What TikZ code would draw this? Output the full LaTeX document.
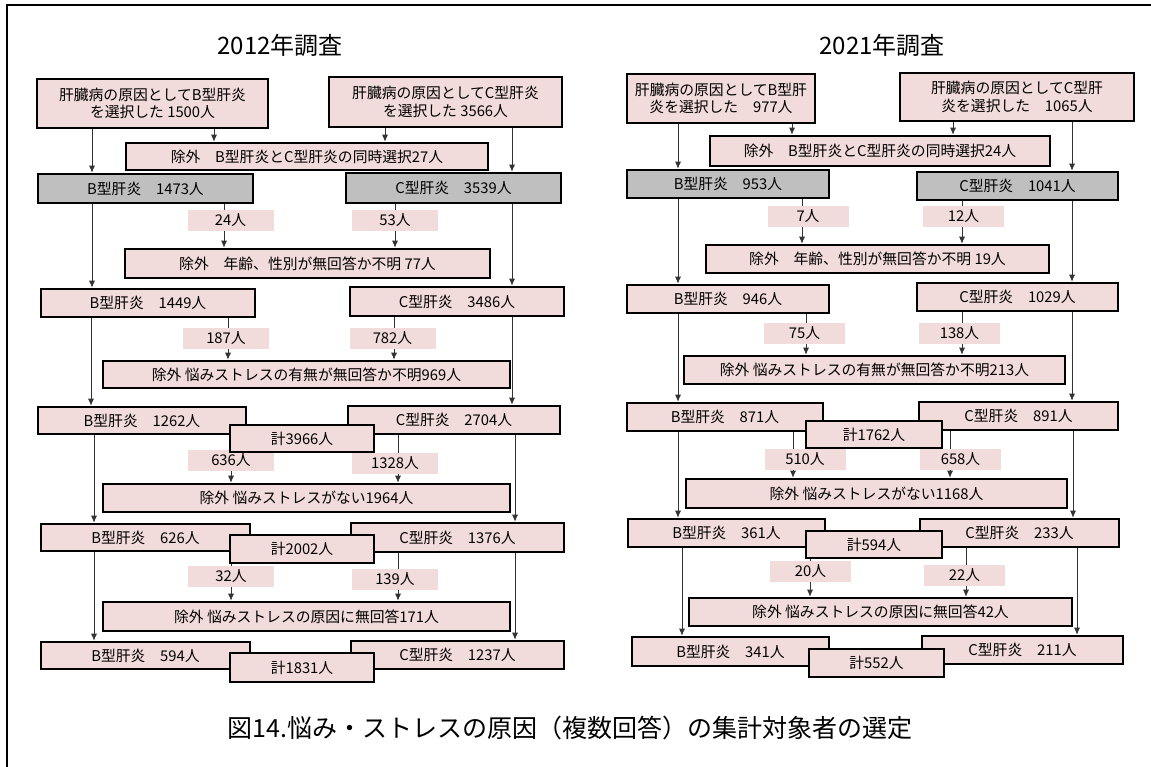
\documentclass[tikz,border=0pt]{standalone}
\usepackage{fontspec}
\setmainfont{Noto Sans CJK JP}
\usepackage{xcolor}
\usetikzlibrary{arrows.meta}
\definecolor{boxpink}{RGB}{242,220,219}
\definecolor{boxgray}{RGB}{191,191,191}
\tikzset{
  box/.style={draw=black, line width=2.6pt, fill=boxpink, inner sep=0pt, align=center, font=\fontsize{14.8}{17.5}\selectfont},
  graybox/.style={box, fill=boxgray},
  numlbl/.style={fill=boxpink, inner sep=0pt, minimum height=21pt, font=\fontsize{14.8}{17.5}\selectfont},
  conn/.style={draw=black!80, line width=0.8pt, -{Latex[length=7pt,width=6pt]}}
}
\begin{document}
\begin{tikzpicture}[x=1pt,y=-1pt]
    \useasboundingbox (0,0) rectangle (1151,767);
    \draw[line width=2pt] (7,767) -- (7,5) -- (1151,5);

    \node[font=\fontsize{24}{28}\selectfont] (t12) at (280,45) {2012年調査};
    \node[box, minimum width=231pt, minimum height=49pt] (b1) at (152.5,103.5) {肝臓病の原因としてB型肝炎\\を選択した 1500人};
    \node[box, minimum width=233pt, minimum height=50pt] (c1) at (445.5,102) {肝臓病の原因としてC型肝炎\\を選択した 3566人};
    \node[box, minimum width=362pt, minimum height=27pt] (x1) at (307,156.5) {除外　B型肝炎とC型肝炎の同時選択27人};
    \node[graybox, minimum width=215pt, minimum height=29pt] (b2) at (145.5,188.5) {B型肝炎　1473人};
    \node[graybox, minimum width=215pt, minimum height=30pt] (c2) at (453.5,188) {C型肝炎　3539人};
    \node[box, minimum width=365pt, minimum height=29pt] (x2) at (307.5,263.5) {除外　年齢、性別が無回答か不明 77人};
    \node[box, minimum width=214pt, minimum height=28pt] (b3) at (148,303) {B型肝炎　1449人};
    \node[box, minimum width=214pt, minimum height=29pt] (c3) at (457,301.5) {C型肝炎　3486人};
    \node[box, minimum width=407pt, minimum height=27pt] (x3) at (306.5,374.5) {除外 悩みストレスの有無が無回答か不明969人};
    \node[box, minimum width=208pt, minimum height=27pt] (b4) at (142,420.5) {B型肝炎　1262人};
    \node[box, minimum width=212pt, minimum height=28pt] (c4) at (454,420) {C型肝炎　2704人};
    \node[box, minimum width=407pt, minimum height=28pt] (x4) at (306.5,498) {除外 悩みストレスがない1964人};
    \node[box, minimum width=209pt, minimum height=27pt] (b5) at (145.5,537.5) {B型肝炎　626人};
    \node[box, minimum width=213pt, minimum height=29pt] (c5) at (457.5,537.5) {C型肝炎　1376人};
    \node[box, minimum width=407pt, minimum height=29pt] (x5) at (306.5,616.5) {除外 悩みストレスの原因に無回答171人};
    \node[box, minimum width=209pt, minimum height=27pt] (b6) at (145.5,655.5) {B型肝炎　594人};
    \node[box, minimum width=213pt, minimum height=28pt] (c6) at (457.5,655) {C型肝炎　1237人};

    \node[font=\fontsize{24}{28}\selectfont] (t21) at (882,45) {2021年調査};
    \node[box, minimum width=188pt, minimum height=49pt] (rb1) at (721,98.5) {肝臓病の原因としてB型肝\\炎を選択した　977人};
    \node[box, minimum width=234pt, minimum height=48pt] (rc1) at (1017,97) {肝臓病の原因としてC型肝\\炎を選択した　1065人};
    \node[box, minimum width=340pt, minimum height=30pt] (rx1) at (880,151) {除外　B型肝炎とC型肝炎の同時選択24人};
    \node[graybox, minimum width=202pt, minimum height=28pt] (rb2) at (728,184) {B型肝炎　953人};
    \node[graybox, minimum width=201pt, minimum height=28pt] (rc2) at (1017.5,186) {C型肝炎　1041人};
    \node[box, minimum width=343pt, minimum height=28pt] (rx2) at (877.5,259) {除外　年齢、性別が無回答か不明 19人};
    \node[box, minimum width=202pt, minimum height=28pt] (rb3) at (728,299) {B型肝炎　946人};
    \node[box, minimum width=201pt, minimum height=28pt] (rc3) at (1017.5,297) {C型肝炎　1029人};
    \node[box, minimum width=381pt, minimum height=28pt] (rx3) at (874.5,370) {除外 悩みストレスの有無が無回答か不明213人};
    \node[box, minimum width=196pt, minimum height=28pt] (rb4) at (725,417) {B型肝炎　871人};
    \node[box, minimum width=199pt, minimum height=28pt] (rc4) at (1018.5,416) {C型肝炎　891人};
    \node[box, minimum width=381pt, minimum height=29pt] (rx4) at (876.5,493.5) {除外 悩みストレスがない1168人};
    \node[box, minimum width=197pt, minimum height=28pt] (rb5) at (726.5,533) {B型肝炎　361人};
    \node[box, minimum width=199pt, minimum height=28pt] (rc5) at (1019.5,533) {C型肝炎　233人};
    \node[box, minimum width=383pt, minimum height=28pt] (rx5) at (880.5,612) {除外 悩みストレスの原因に無回答42人};
    \node[box, minimum width=197pt, minimum height=29pt] (rb6) at (730.5,651.5) {B型肝炎　341人};
    \node[box, minimum width=201pt, minimum height=28pt] (rc6) at (1022.5,650) {C型肝炎　211人};

    \foreach \p/\q/\xx in {b1/b2/92, b2/b3/92, b3/b4/91, b4/b5/94, b5/b6/94,
                           c1/c2/512, c2/c3/512, c3/c4/512, c4/c5/515, c5/c6/515,
                           b1/x1/214, c1/x1/385, b2/x2/224, c2/x2/395, b3/x3/228, c3/x3/394,
                           b4/x4/231, c4/x4/398, b5/x5/231, c5/x5/398,
                           rb1/rb2/678, rb2/rb3/678, rb3/rb4/678, rb4/rb5/678, rb5/rb6/682,
                           rc1/rc2/1072, rc2/rc3/1072, rc3/rc4/1072, rc4/rc5/1073, rc5/rc6/1077,
                           rb1/rx1/792, rc1/rx1/953, rb2/rx2/802, rc2/rx2/962, rb3/rx3/806, rc3/rx3/962,
                           rb4/rx4/793, rc4/rx4/950, rb5/rx5/810, rc5/rx5/966}
        \draw[conn] (\xx,0 |- \p.south) -- (\xx,0 |- \q.north);

    \foreach \n/\cx/\cy/\lbl in {lb2/230.5/220.5/24人, lc2/395/220.5/53人, lb3/226/338/187人, lc3/392.5/338/782人,
                                 lb4/231/460.5/636人, lc4/395/463/1328人, lb5/231/576/32人, lc5/395/579/139人}
        \node[numlbl, minimum width=86pt] (\n) at (\cx,\cy) {\lbl};
    \foreach \n/\cx/\cy/\lbl in {rlb2/808/216.5/7人, rlc2/963.5/216.5/12人, rlb3/804.5/333.5/75人, rlc3/959.5/333.5/138人,
                                 rlb4/805/459.5/510人, rlc4/960.5/459.5/658人, rlb5/810.5/571.5/20人, rlc5/964.5/575.5/22人}
        \node[numlbl, minimum width=81pt] (\n) at (\cx,\cy) {\lbl};

    \node[box, minimum width=144pt, minimum height=27pt] (s4) at (302,438.5) {計3966人};
    \node[box, minimum width=144pt, minimum height=28pt] (s5) at (302,549) {計2002人};
    \node[box, minimum width=144pt, minimum height=29pt] (s6) at (302,667.5) {計1831人};
    \node[box, minimum width=136pt, minimum height=27pt] (rs4) at (874,434.5) {計1762人};
    \node[box, minimum width=136pt, minimum height=27pt] (rs5) at (874,544.5) {計594人};
    \node[box, minimum width=135pt, minimum height=28pt] (rs6) at (876.5,663) {計552人};

    \node[font=\fontsize{25}{30}\selectfont] (cap) at (570,728) {図14.悩み・ストレスの原因（複数回答）の集計対象者の選定};
\end{tikzpicture}
\end{document}
